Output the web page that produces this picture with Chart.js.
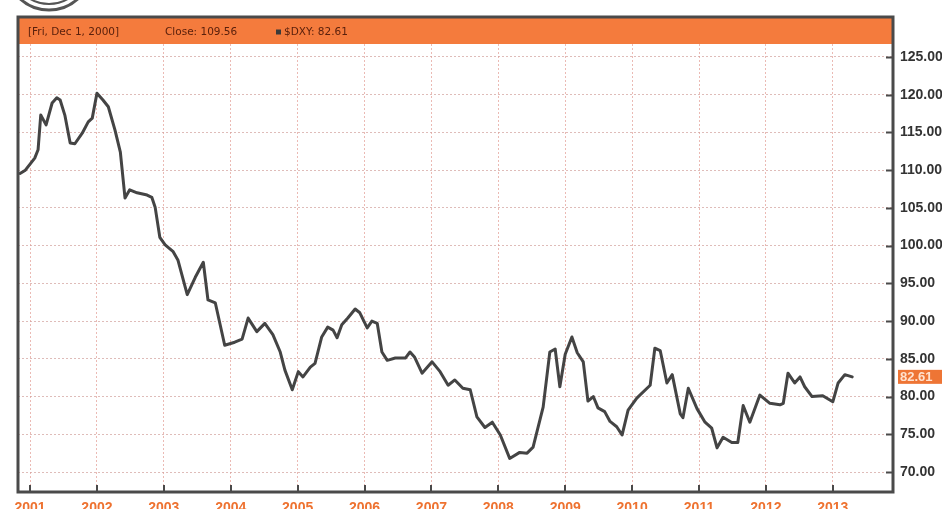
<!DOCTYPE html>
<html>
<head>
<meta charset="utf-8">
<title>$DXY</title>
<script src="https://cdn.jsdelivr.net/npm/chart.js@4.4.1/dist/chart.umd.min.js"></script>
<style>
  html, body { margin: 0; padding: 0; background: #fff; }
  canvas { display: block; }
</style>
</head>
<body>
<canvas id="dxyChart" width="942" height="509"></canvas>
<script>
// US dollar index, Dec 2000 - Apr 2013 (dates as decimal years)
const dates = [
  2000.85, 2000.93, 2001.07, 2001.12, 2001.16, 2001.24, 2001.33, 2001.40, 2001.45, 2001.52,
  2001.60, 2001.67, 2001.78, 2001.87, 2001.93, 2002.00, 2002.09, 2002.17, 2002.27, 2002.35,
  2002.42, 2002.49, 2002.60, 2002.75, 2002.82, 2002.87, 2002.94, 2003.02, 2003.14, 2003.21,
  2003.35, 2003.47, 2003.59, 2003.66, 2003.77, 2003.91, 2004.06, 2004.17, 2004.26, 2004.39,
  2004.51, 2004.63, 2004.74, 2004.81, 2004.92, 2005.01, 2005.08, 2005.19, 2005.26, 2005.36,
  2005.45, 2005.53, 2005.59, 2005.66, 2005.75, 2005.86, 2005.93, 2006.04, 2006.11, 2006.19,
  2006.26, 2006.34, 2006.46, 2006.61, 2006.68, 2006.75, 2006.86, 2007.01, 2007.13, 2007.25,
  2007.35, 2007.47, 2007.58, 2007.68, 2007.80, 2007.91, 2008.03, 2008.17, 2008.32, 2008.43,
  2008.52, 2008.67, 2008.77, 2008.85, 2008.92, 2009.00, 2009.10, 2009.18, 2009.27, 2009.34,
  2009.42, 2009.49, 2009.59, 2009.67, 2009.77, 2009.85, 2009.94, 2010.07, 2010.27, 2010.34,
  2010.42, 2010.52, 2010.60, 2010.72, 2010.76, 2010.84, 2010.97, 2011.09, 2011.19, 2011.27,
  2011.36, 2011.49, 2011.58, 2011.66, 2011.76, 2011.91, 2012.06, 2012.21, 2012.26, 2012.33,
  2012.43, 2012.51, 2012.58, 2012.69, 2012.85, 2013.00, 2013.08, 2013.18, 2013.29
];
const closes = [
  109.56, 110.0, 111.6, 112.7, 117.3, 116.0, 118.9, 119.6, 119.3, 117.3,
  113.6, 113.5, 114.9, 116.4, 116.9, 120.2, 119.3, 118.4, 115.3, 112.4,
  106.3, 107.4, 107.0, 106.7, 106.4, 105.1, 101.1, 100.1, 99.2, 98.1,
  93.5, 95.8, 97.8, 92.8, 92.4, 86.8, 87.2, 87.6, 90.4, 88.6,
  89.7, 88.2, 85.9, 83.5, 80.9, 83.3, 82.6, 83.9, 84.4, 87.9,
  89.2, 88.8, 87.8, 89.5, 90.4, 91.6, 91.1, 89.1, 90.0, 89.7,
  85.9, 84.8, 85.1, 85.1, 85.9, 85.2, 83.1, 84.6, 83.3, 81.5,
  82.2, 81.1, 80.9, 77.3, 75.9, 76.6, 74.9, 71.8, 72.6, 72.5,
  73.3, 78.6, 85.9, 86.3, 81.3, 85.6, 87.9, 85.8, 84.6, 79.4,
  80.0, 78.5, 78.0, 76.7, 76.0, 74.9, 78.2, 79.8, 81.5, 86.4,
  86.1, 81.8, 82.9, 77.7, 77.2, 81.1, 78.4, 76.6, 75.8, 73.2,
  74.6, 73.9, 73.9, 78.8, 76.6, 80.2, 79.1, 78.9, 79.1, 83.1,
  81.8, 82.6, 81.3, 80.0, 80.1, 79.3, 81.8, 82.9, 82.61
];
const years = [2001, 2002, 2003, 2004, 2005, 2006, 2007, 2008, 2009, 2010, 2011, 2012, 2013];
const priceTicks = [70, 75, 80, 85, 90, 95, 100, 105, 110, 115, 120, 125];
const headerDate = '[Fri, Dec 1, 2000]';
const headerClose = 'Close: 109.56';
const headerSymbol = '$DXY: 82.61';
const lastClose = 82.61;

const ORANGE = '#f47b3d';
const FRAME = '#4a4a4a';

const points = dates.map((d, i) => ({ x: d, y: closes[i] }));

// header strip, frame, inward tick marks, last-price tag and logo
const decorations = {
  id: 'decorations',
  beforeDraw(chart) {
    const ctx = chart.ctx;
    ctx.save();
    ctx.fillStyle = '#fff';
    ctx.fillRect(0, 0, chart.width, chart.height);
    ctx.restore();
  },
  afterDraw(chart) {
    const ctx = chart.ctx;
    const a = chart.chartArea;
    const xs = chart.scales.x;
    const ys = chart.scales.y;
    ctx.save();

    // header strip
    ctx.fillStyle = ORANGE;
    ctx.fillRect(a.left, 17, a.right - a.left, a.top - 17);
    ctx.font = '10.5px "DejaVu Sans", sans-serif';
    ctx.fillStyle = '#5a200c';
    ctx.textBaseline = 'middle';
    const hy = 32;
    ctx.fillText(headerDate, 28, hy);
    ctx.fillText(headerClose, 165, hy);
    ctx.fillStyle = '#3a3a3a';
    ctx.fillRect(276, hy - 2.5, 5, 5);
    ctx.fillStyle = '#5a200c';
    ctx.fillText(headerSymbol, 284, hy);

    // frame
    ctx.strokeStyle = FRAME;
    ctx.lineWidth = 3;
    ctx.beginPath();
    ctx.moveTo(a.left, 17);
    ctx.lineTo(a.right, 17);
    ctx.lineTo(a.right, a.bottom);
    ctx.lineTo(a.left, a.bottom);
    ctx.closePath();
    ctx.stroke();

    // tick marks pointing into the plot
    ctx.lineWidth = 2;
    ctx.beginPath();
    priceTicks.forEach(v => {
      const py = Math.round(ys.getPixelForValue(v)) + 0.5;
      ctx.moveTo(a.right - 7, py);
      ctx.lineTo(a.right, py);
    });
    years.forEach(yr => {
      const px = Math.round(xs.getPixelForValue(yr));
      ctx.moveTo(px, a.bottom - 7);
      ctx.lineTo(px, a.bottom);
    });
    ctx.stroke();

    // last price tag
    const ty = ys.getPixelForValue(lastClose);
    ctx.fillStyle = '#ee7535';
    ctx.fillRect(a.right + 5, ty - 7, chart.width - a.right - 5, 14);
    ctx.fillStyle = '#ffe2cf';
    ctx.font = 'bold 13px "Liberation Sans", Arial, sans-serif';
    ctx.textBaseline = 'middle';
    ctx.fillText(lastClose.toFixed(2), a.right + 7, ty + 0.5);

    // logo ring, top left
    ctx.strokeStyle = '#555';
    ctx.lineWidth = 3;
    ctx.beginPath();
    ctx.arc(49, -33, 43, 0, Math.PI);
    ctx.stroke();
    ctx.lineWidth = 2;
    ctx.beginPath();
    ctx.arc(49, -33, 37, 0, Math.PI);
    ctx.stroke();

    ctx.restore();
  }
};

new Chart(document.getElementById('dxyChart'), {
  type: 'line',
  data: {
    datasets: [{
      label: '$DXY',
      data: points,
      borderColor: '#444',
      borderWidth: 3,
      pointRadius: 0,
      tension: 0,
      borderJoinStyle: 'round',
      borderCapStyle: 'round'
    }]
  },
  options: {
    responsive: false,
    animation: false,
    layout: { padding: { left: 18, top: 44, right: 0, bottom: 0 } },
    plugins: {
      legend: { display: false },
      tooltip: { enabled: false }
    },
    scales: {
      x: {
        type: 'linear',
        min: 2000.82,
        max: 2013.9,
        afterBuildTicks(scale) {
          scale.ticks = years.map(v => ({ value: v }));
        },
        afterFit(scale) { scale.height = 17; },
        // dotted grid lines
        border: { display: false, dash: [2, 2] },
        grid: {
          color: 'rgba(222, 140, 130, 0.6)',
          lineWidth: 1,
          drawTicks: false
        },
        ticks: {
          padding: 8,
          color: '#ee7230',
          font: { family: '"Liberation Sans", Arial, sans-serif', size: 14, weight: 'bold' },
          maxRotation: 0,
          autoSkip: false,
          callback: v => String(v)
        }
      },
      y: {
        position: 'right',
        min: 67.35,
        max: 126.72,
        afterBuildTicks(scale) {
          scale.ticks = priceTicks.map(v => ({ value: v }));
        },
        afterFit(scale) { scale.width = 49; },
        border: { display: false, dash: [2, 2] },
        grid: {
          color: 'rgba(210, 160, 155, 0.7)',
          lineWidth: 1,
          drawTicks: false
        },
        ticks: {
          padding: 7,
          color: '#333',
          font: { family: '"Liberation Sans", Arial, sans-serif', size: 14, weight: 'bold' },
          callback: v => Number(v).toFixed(2)
        }
      }
    }
  },
  plugins: [decorations]
});
</script>
</body>
</html>
